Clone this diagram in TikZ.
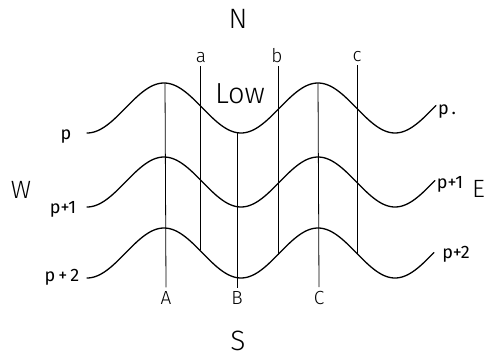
\documentclass[tikz,border=0pt]{standalone}
\usepackage{fontspec}
\setmainfont{Fira Sans}[UprightFont=* Light]
\newfontfamily\pfont{Fira Sans}
\tikzset{
  wave/.style={line width=1.3pt, line cap=round},
  vline/.style={line width=0.8pt},
  compass/.style={inner sep=0pt, font=\fontsize{28}{32}\selectfont},
  sidecompass/.style={inner sep=0pt, font=\fontsize{25}{30}\selectfont},
  lowlbl/.style={inner sep=0pt, font=\fontsize{29}{34}\selectfont},
  ptlbl/.style={inner sep=0pt, font=\fontsize{19}{22}\selectfont},
  plbl/.style={inner sep=0pt, font=\pfont\fontsize{18}{21}\selectfont},
}
\begin{document}
\begin{tikzpicture}[x=1pt,y=-1pt]
\useasboundingbox (0,0) rectangle (486,359);
% isobars
\draw[wave] plot[domain=87:436, samples=160, smooth] (\x, {108-25*cos((\x-164)/77*180)});
\draw[wave] plot[domain=87:435, samples=160, smooth] (\x, {182-25*cos((\x-164)/77*180)});
\draw[wave] plot[domain=87:434, samples=160, smooth] (\x, {253-25*cos((\x-164)/77*180)});
% compass labels
\node[compass] (N) at (238,19) {N};
\node[compass] (S) at (238,341) {S};
\node[sidecompass] (W) at (21,190) {W};
\node[sidecompass, anchor=east] (E) at (485,189) {E};
\node[lowlbl] (low) at (240,94) {Low};
% point labels
\node[ptlbl] (la) at (201,58) {a};
\node[ptlbl] (lb) at (277,56) {b};
\node[ptlbl] (lc) at (357,57) {c};
\node[ptlbl] (lA) at (166,298) {A};
\node[ptlbl] (lB) at (237,298) {B};
\node[ptlbl] (lC) at (319,298) {C};
% pressure labels
\node[plbl] (p0l) at (66,137) {p};
\node[plbl] (p1l) at (63,209) {p+1};
\node[plbl] (p2l) at (62,277) {p\,+\,2};
\node[plbl] (p0r) at (447,112) {p\,.};
\node[plbl] (p1r) at (450,184) {p+1};
\node[plbl] (p2r) at (456,254) {p+2};
% line end points
\coordinate (A1) at (165,83);
\coordinate (B1) at (237,133);
\coordinate (C1) at (318,83);
\coordinate (a3) at (200,{253-25*cos((200-164)/77*180)});
\coordinate (b3) at (278,{253-25*cos((278-164)/77*180)});
\coordinate (c3) at (357,{253-25*cos((357-164)/77*180)});
% vertical lines
\draw[vline] (A1) -- ([yshift=4pt]lA.north);
\draw[vline] (B1) -- ([yshift=3pt]lB.north);
\draw[vline] (C1) -- ([yshift=4pt]lC.north);
\draw[vline] ([yshift=-3pt]la.south -| a3) -- (a3);
\draw[vline] ([yshift=-3pt]lb.south -| b3) -- (b3);
\draw[vline] ([yshift=-3pt]lc.south -| c3) -- (c3);
\end{tikzpicture}
\end{document}
